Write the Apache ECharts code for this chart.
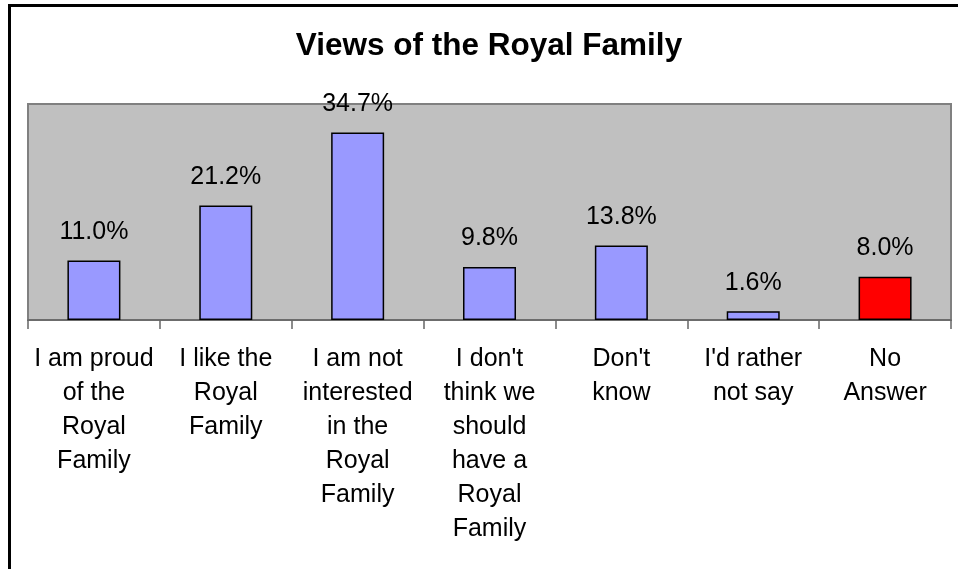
<!DOCTYPE html>
<html>
<head>
<meta charset="utf-8">
<script src="https://cdn.jsdelivr.net/npm/echarts@6/dist/echarts.min.js"></script>
<style>
  html, body { margin: 0; padding: 0; background: #fff; overflow: hidden; }
</style>
</head>
<body>
<!-- chart fills the whole 958x569 window -->
<div id="chartBox" style="width: 958px; height: 569px;"></div>

<script>
// categories (x axis) and values (percent)
const categories = [
  'I am proud\nof the\nRoyal\nFamily',
  'I like the\nRoyal\nFamily',
  'I am not\ninterested\nin the\nRoyal\nFamily',
  "I don't\nthink we\nshould\nhave a\nRoyal\nFamily",
  "Don't\nknow",
  "I'd rather\nnot say",
  'No\nAnswer'
];
const values = [11.0, 21.2, 34.7, 9.8, 13.8, 1.6, 8.0];
const barColors = ['#9999FF', '#9999FF', '#9999FF', '#9999FF', '#9999FF', '#9999FF', '#FF0000'];

const chart = echarts.init(document.getElementById('chartBox'));
const font = 'Liberation Sans, Arial, sans-serif';

const option = {
  animation: false,
  title: {
    text: 'Views of the Royal Family',
    left: 489,
    textAlign: 'center',
    top: 30,
    padding: 0,
    textStyle: { fontFamily: font, fontSize: 31.5, fontWeight: 'bold', color: '#000' }
  },
  // outer chart-area border (only top and left visible in the picture)
  graphic: [{
    type: 'rect',
    shape: { x: 9.5, y: 5.5, width: 1200, height: 800 },
    style: { fill: 'none', stroke: '#000', lineWidth: 3 },
    silent: true
  }],
  grid: {
    left: 28, right: 7, top: 104, bottom: 249,
    show: true,
    backgroundColor: '#C0C0C0',
    borderColor: '#808080',
    borderWidth: 2
  },
  xAxis: {
    type: 'category',
    data: categories,
    axisLine: { lineStyle: { color: '#666', width: 1.5 } },
    axisTick: { show: true, length: 9, lineStyle: { color: '#666', width: 1.5 } },
    axisLabel: {
      interval: 0,
      margin: 22,
      fontFamily: font,
      fontSize: 25,
      lineHeight: 34,
      color: '#000'
    }
  },
  yAxis: {
    type: 'value',
    min: 0,
    max: 40,
    show: false,
    splitLine: { show: false }
  },
  series: [{
    type: 'bar',
    data: values.map((v, i) => ({ value: v, itemStyle: { color: barColors[i] } })),
    barWidth: 53,
    itemStyle: { borderColor: '#000', borderWidth: 1.5 },
    label: {
      show: true,
      position: 'top',
      distance: 16,
      fontFamily: font,
      fontSize: 25,
      color: '#000',
      formatter: p => p.value.toFixed(1) + '%'
    }
  }]
};

chart.setOption(option);
</script>
</body>
</html>
